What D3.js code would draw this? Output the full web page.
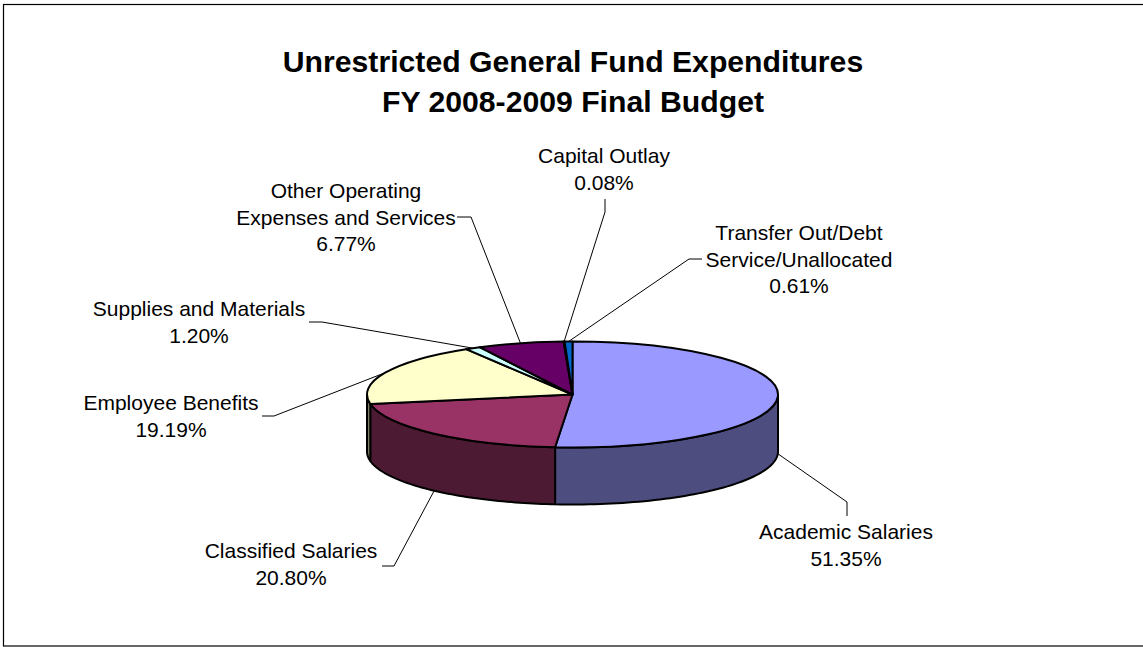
<!DOCTYPE html>
<html>
<head>
<meta charset="utf-8">
<title>Unrestricted General Fund Expenditures</title>
<script src="https://cdn.jsdelivr.net/npm/d3@7"></script>
<style>
  html, body { margin: 0; padding: 0; background: #fff; overflow: hidden; }
  svg { display: block; }
  text { font-family: "Liberation Sans", Arial, sans-serif; fill: #000; }
</style>
</head>
<body>
<svg id="chart"></svg>
<script>
// Data
const categories = ['Academic Salaries', 'Classified Salaries', 'Employee Benefits',
  'Supplies and Materials', 'Other Operating Expenses and Services', 'Capital Outlay',
  'Transfer Out/Debt Service/Unallocated'];
const shares = [51.35, 20.80, 19.19, 1.20, 6.77, 0.08, 0.61];
const titleLines = ['Unrestricted General Fund Expenditures', 'FY 2008-2009 Final Budget'];

// How each label wraps
const labelLines = [
  ['Academic Salaries'],
  ['Classified Salaries'],
  ['Employee Benefits'],
  ['Supplies and Materials'],
  ['Other Operating', 'Expenses and Services'],
  ['Capital Outlay'],
  ['Transfer Out/Debt', 'Service/Unallocated']
];
const topColors = ['#9999ff', '#993366', '#ffffcc', '#ccffff', '#660066', '#ff8080', '#0066cc'];
const sideColors = ['#4d4d80', '#4d1a33', '#808066', '#668080', '#330033', '#804040', '#003366'];

// Label centre x, first baseline y
const labelPos = [[846, 539], [291, 558], [171, 410], [199, 316], [346, 198], [604, 163], [799, 240]];
// Leader line: outer end, then elbow
const leaderPos = [
  [[847, 516], [847, 502]],
  [[382, 566], [394, 566]],
  [[262, 416], [274, 416]],
  [[309, 322], [322, 322]],
  [[457, 217], [471, 217]],
  [[605, 199], [605, 212]],
  [[702, 259], [689, 259]]
];

const width = 1143, height = 647;
const cx = 572.5, cy = 394.5, rx = 205.5, ry = 53, depth = 57;
const labelSize = 21, labelStep = 26.5;

const svg = d3.select('#chart').attr('width', width).attr('height', height);

// Frame: left, top and bottom only reach the picture
svg.append('rect')
  .attr('x', 3.5).attr('y', 4.5)
  .attr('width', width + 10).attr('height', 641.5)
  .attr('fill', '#fff').attr('stroke', '#000').attr('stroke-width', 1.2);

// Title
svg.append('g').selectAll('text')
  .data(titleLines)
  .join('text')
  .attr('x', 573)
  .attr('y', (d, i) => 72 + i * 39.5)
  .attr('text-anchor', 'middle')
  .attr('font-size', 30.2)
  .attr('font-weight', 'bold')
  .text(d => d);

const slices = d3.pie().sort(null).value(d => d)(shares);

// Point on the top ellipse for a pie angle (0 = 12 o'clock, clockwise)
const ex = a => cx + rx * Math.sin(a);
const ey = a => cy - ry * Math.cos(a);

// Side wall, only the front half of the disc can be seen
const wallLine = d3.line();
function wallPath(d) {
  const a0 = Math.max(d.startAngle, Math.PI / 2);
  const a1 = Math.min(d.endAngle, Math.PI * 1.5);
  if (a1 <= a0) return null;
  const angles = d3.range(0, 61).map(i => a0 + (a1 - a0) * i / 60);
  const pts = angles.map(a => [ex(a), ey(a)])
    .concat(angles.slice().reverse().map(a => [ex(a), ey(a) + depth]));
  return wallLine(pts) + 'Z';
}

svg.append('g').selectAll('path')
  .data(slices)
  .join('path')
  .attr('d', wallPath)
  .attr('fill', (d, i) => sideColors[i])
  .attr('stroke', '#000')
  .attr('stroke-width', 2)
  .attr('stroke-linejoin', 'round');

// Top face, a d3 arc squashed into an ellipse
const arc = d3.arc().innerRadius(0).outerRadius(rx);
svg.append('g')
  .attr('transform', `translate(${cx},${cy}) scale(1,${ry / rx})`)
  .selectAll('path')
  .data(slices)
  .join('path')
  .attr('d', arc)
  .attr('fill', (d, i) => topColors[i])
  .attr('stroke', '#000')
  .attr('stroke-width', 2)
  .attr('stroke-linejoin', 'round')
  .attr('vector-effect', 'non-scaling-stroke');

// Leader lines end at the middle of each slice, on the wall if the slice faces front
function anchor(d) {
  const mid = (d.startAngle + d.endAngle) / 2;
  const front = Math.cos(mid) < 0;
  return [ex(mid), ey(mid) + (front ? depth : 0)];
}
svg.append('g').selectAll('path')
  .data(slices)
  .join('path')
  .attr('d', (d, i) => d3.line()([leaderPos[i][0], leaderPos[i][1], anchor(d)]))
  .attr('fill', 'none')
  .attr('stroke', '#000')
  .attr('stroke-width', 1);

// Labels
const labels = svg.append('g').selectAll('text')
  .data(categories)
  .join('text')
  .attr('text-anchor', 'middle')
  .attr('font-size', labelSize);
labels.each(function (d, i) {
  const lines = labelLines[i].concat(shares[i].toFixed(2) + '%');
  d3.select(this).selectAll('tspan')
    .data(lines)
    .join('tspan')
    .attr('x', labelPos[i][0])
    .attr('y', (t, j) => labelPos[i][1] + j * labelStep)
    .text(t => t);
});
</script>
</body>
</html>
